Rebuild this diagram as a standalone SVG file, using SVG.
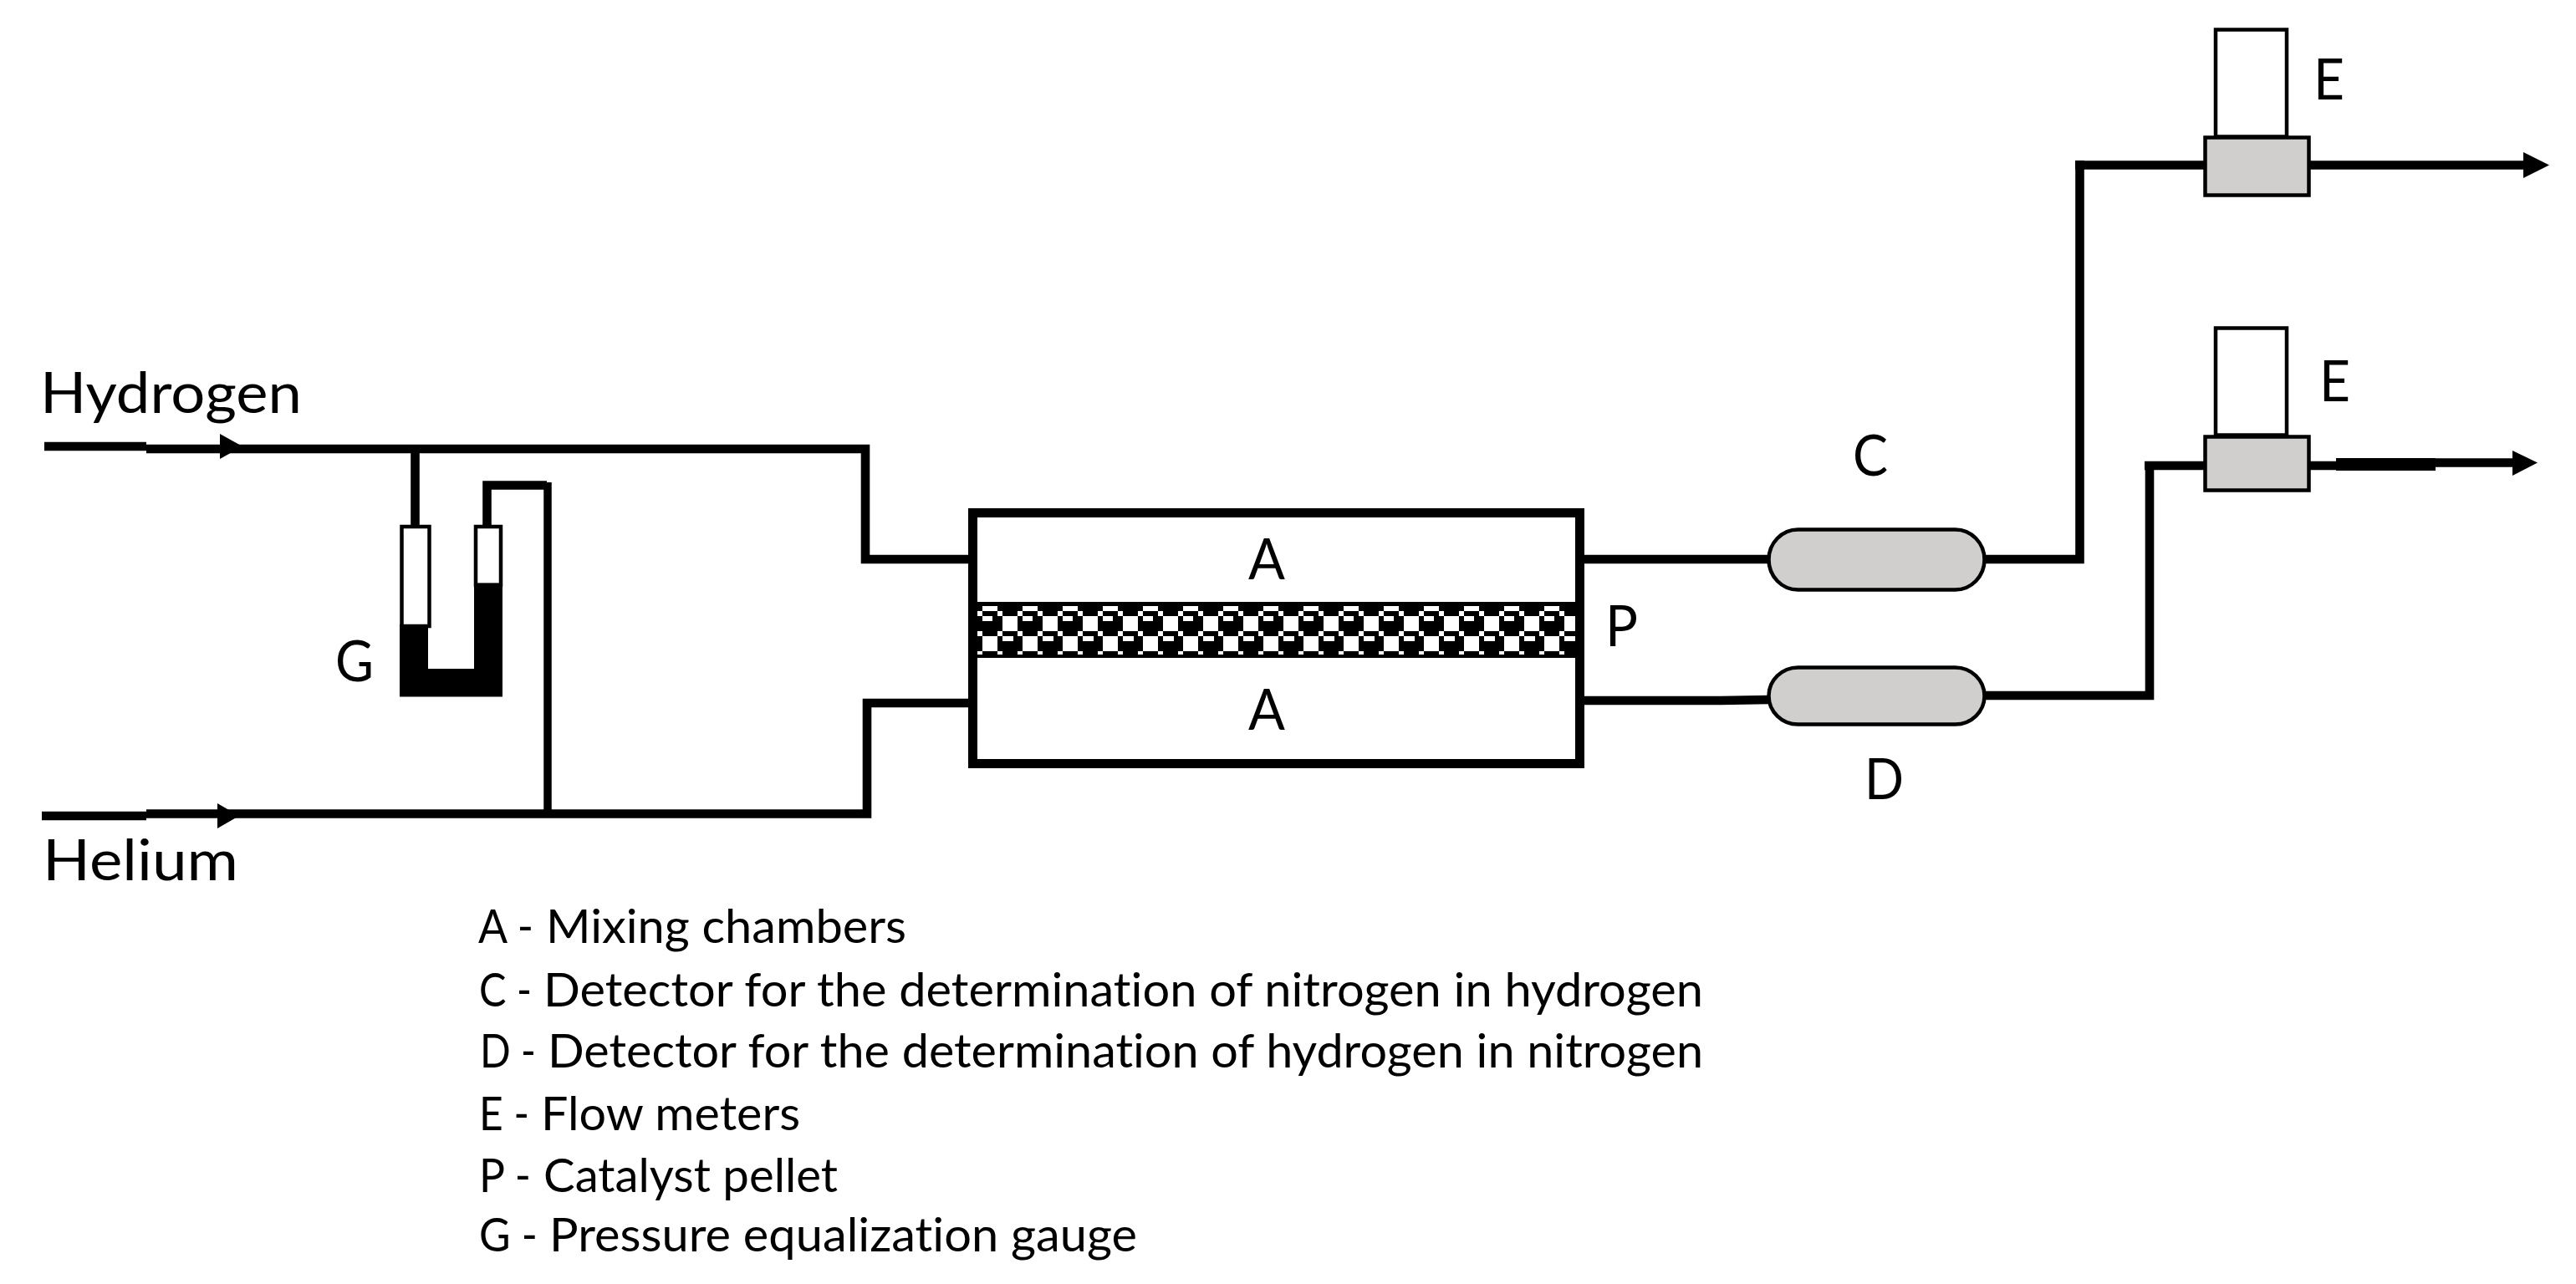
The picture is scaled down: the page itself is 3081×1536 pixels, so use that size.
<svg xmlns="http://www.w3.org/2000/svg" width="3081" height="1536" viewBox="0 0 3081 1536">
<style>
.p{fill:none;stroke:#000;stroke-width:10.6;stroke-linejoin:miter;stroke-linecap:butt}
.t{font-family:"Lato","Carlito","Open Sans",sans-serif;fill:#000;font-variant-ligatures:none}
.big{font-size:68px}
.leg{font-size:56px}
.gr{fill:#d0cfcd;stroke:#000;stroke-width:4.5}
.wh{fill:#fff;stroke:#000;stroke-width:4.5}
.ah{fill:#000;stroke:none}
</style>
<defs>
<pattern id="pel" patternUnits="userSpaceOnUse" x="1169" y="720" width="48" height="67">
<rect width="48" height="67" fill="#000"/>
<g fill="#fff" shape-rendering="crispEdges">
<rect x="6" y="5" width="18" height="6"/>
<rect x="0" y="11" width="6" height="6"/>
<rect x="24" y="11" width="6" height="6"/>
<rect x="6" y="17" width="12" height="6"/>
<rect x="30" y="17" width="18" height="18"/>
<rect x="0" y="35" width="6" height="6"/>
<rect x="24" y="35" width="6" height="6"/>
<rect x="30" y="41" width="13" height="6"/>
<rect x="6" y="41" width="18" height="18"/>
<rect x="0" y="59" width="6" height="4"/>
<rect x="24" y="59" width="6" height="4"/>
</g>
</pattern>
</defs>
<rect width="3081" height="1536" fill="#fff"/>
<g id="connectors">
<path class="p" d="M53 534H175"/>
<path class="p" d="M175 537H1035V669H1160"/>
<path class="p" d="M50 976H175"/>
<path class="p" d="M175 973.5H1037V841H1160"/>
<path class="p" d="M496.5 537V630"/>
<path class="p" d="M582.5 630V580.5H654"/>
<path class="p" style="stroke-width:9.5" d="M655 577V973"/>
<path class="p" d="M1893 669H2115"/>
<path class="p" d="M2374 669H2487.5V192"/>
<path class="p" d="M2482 197.5H2637"/>
<path class="p" d="M2762 197.5H3020"/>
<path class="p" d="M1893 838H2058L2115 837"/>
<path class="p" d="M2372 832H2571V552"/>
<path class="p" d="M2565 557H2637"/>
<path class="p" d="M2762 557H2795"/>
<path class="p" style="stroke-width:15" d="M2794 555.5H2913"/>
<path class="p" d="M2794 553.5H3007"/>
<polygon class="ah" points="263,519 290,534 263,549"/>
<polygon class="ah" points="260,961 286,976 260,991"/>
<polygon class="ah" points="3018,182 3049,197.5 3018,213"/>
<polygon class="ah" points="3005,539 3035,553.5 3005,569"/>
</g>
<g id="reactor">
<rect x="1163.5" y="613.5" width="726" height="300" fill="none" stroke="#000" stroke-width="11"/>
<rect id="pellet" x="1169" y="720" width="715" height="67" fill="url(#pel)"/>
<text class="t big" x="1493" y="693" textLength="44" lengthAdjust="spacingAndGlyphs">A</text>
<text class="t big" x="1493" y="873" textLength="44" lengthAdjust="spacingAndGlyphs">A</text>
</g>
<g id="gauge">
<rect class="wh" x="480.500" y="630" width="33" height="119"/>
<rect class="wh" x="569" y="630" width="30" height="70"/>
<path fill="#000" d="M478 747H512V800H567V697.500H601V833.500H478Z"/>
<text class="t big" x="401" y="815" textLength="46" lengthAdjust="spacingAndGlyphs">G</text>
</g>
<g id="detector-c">
<rect class="gr" x="2115.500" y="633.500" width="258" height="72" rx="35" ry="36"/>
<text class="t big" x="2216" y="569" textLength="42" lengthAdjust="spacingAndGlyphs">C</text>
</g>
<g id="detector-d">
<rect class="gr" x="2115.500" y="798.500" width="258" height="68" rx="35" ry="34"/>
<text class="t big" x="2230" y="956" textLength="47" lengthAdjust="spacingAndGlyphs">D</text>
</g>
<g id="flowmeter-1">
<rect class="wh" x="2650" y="35.500" width="85" height="128"/>
<rect class="gr" x="2637.500" y="164.500" width="124" height="69"/>
<text class="t big" x="2767" y="119" textLength="37" lengthAdjust="spacingAndGlyphs">E</text>
</g>
<g id="flowmeter-2">
<rect class="wh" x="2650" y="392.500" width="85" height="128"/>
<rect class="gr" x="2637.500" y="522.500" width="124" height="64"/>
<text class="t big" x="2774" y="480" textLength="37" lengthAdjust="spacingAndGlyphs">E</text>
</g>
<text class="t big" x="1920" y="773" textLength="39" lengthAdjust="spacingAndGlyphs">P</text>
<g id="inlets">
<text class="t big" x="48" y="493.500" textLength="313" lengthAdjust="spacingAndGlyphs">Hydrogen</text>
<text class="t big" x="51" y="1052.500" textLength="234" lengthAdjust="spacingAndGlyphs">Helium</text>
</g>
<g id="legend">
<text class="t leg" y="1128"><tspan x="572" textLength="66" lengthAdjust="spacingAndGlyphs">A -</tspan> <tspan x="653" textLength="431" lengthAdjust="spacingAndGlyphs">Mixing chambers</tspan></text>
<text class="t leg" y="1204"><tspan x="573" textLength="63" lengthAdjust="spacingAndGlyphs">C -</tspan> <tspan x="650" textLength="1387" lengthAdjust="spacingAndGlyphs">Detector for the determination of nitrogen in hydrogen</tspan></text>
<text class="t leg" y="1277"><tspan x="574" textLength="67" lengthAdjust="spacingAndGlyphs">D -</tspan> <tspan x="655" textLength="1382" lengthAdjust="spacingAndGlyphs">Detector for the determination of hydrogen in nitrogen</tspan></text>
<text class="t leg" y="1352"><tspan x="573" textLength="60" lengthAdjust="spacingAndGlyphs">E -</tspan> <tspan x="647" textLength="310" lengthAdjust="spacingAndGlyphs">Flow meters</tspan></text>
<text class="t leg" y="1426"><tspan x="573" textLength="62" lengthAdjust="spacingAndGlyphs">P -</tspan> <tspan x="650" textLength="352" lengthAdjust="spacingAndGlyphs">Catalyst pellet</tspan></text>
<text class="t leg" y="1497"><tspan x="573" textLength="70" lengthAdjust="spacingAndGlyphs">G -</tspan> <tspan x="657" textLength="703" lengthAdjust="spacingAndGlyphs">Pressure equalization gauge</tspan></text>
</g>
</svg>
